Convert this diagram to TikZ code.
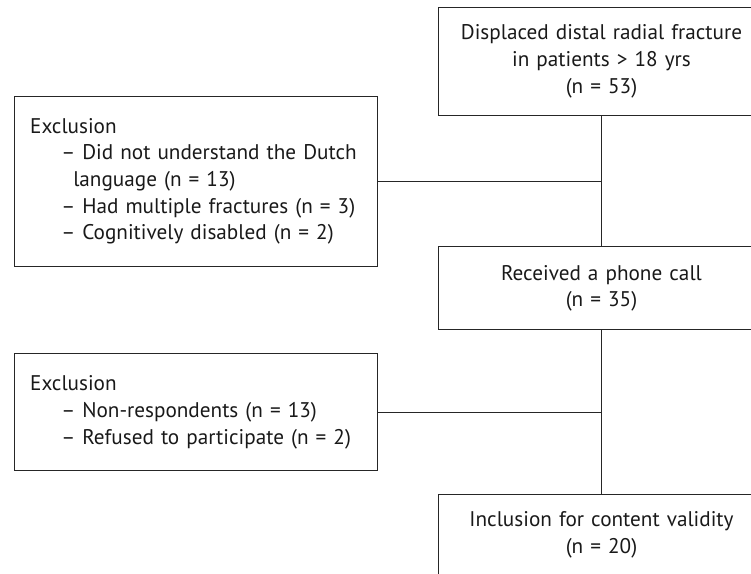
\documentclass[tikz,border=0pt]{standalone}
\usepackage{fontspec}
\setmainfont{PT Sans}
\begin{document}
\begin{tikzpicture}[x=1pt,y=1pt,
	every node/.style={font=\fontsize{21.2}{26.7}\selectfont, text=black!90},
	flowbox/.style={draw=black!85, line width=.9pt, minimum width=327pt, text width=320pt, align=center, inner sep=0pt},
	sidebox/.style={draw=black!85, line width=.9pt, anchor=north west, minimum width=362.6pt, text width=332pt, align=left, inner xsep=15.3pt, inner ysep=0pt},
	link/.style={draw=black!85, line width=.9pt}]
	\useasboundingbox (0,0) rectangle (751,573);
	\clip (0,0) rectangle (751,573);
	% main column
	\node [flowbox, minimum height=108.2pt] (fracture) at (601.5,511.6) {Displaced distal radial fracture\\in patients > 18 yrs\\(n = 53)};
	\node [flowbox, minimum height=83.3pt] (phone) at (601.5,284.7) {Received a phone call\\(n = 35)};
	\node [flowbox, minimum height=81pt] (inclusion) at (601.5,38.5) {Inclusion for content validity\\(n = 20)};
	% exclusions
	\node [sidebox, minimum height=170.2pt] (exclA) at (14.4,477.2) {Exclusion\\
		\hspace*{31.1pt}– Did not understand the Dutch\\
		\hspace*{43.1pt}language (n = 13)\\
		\hspace*{31.1pt}– Had multiple fractures (n = 3)\\
		\hspace*{31.1pt}– Cognitively disabled (n = 2)};
	\node [sidebox, minimum height=116.6pt] (exclB) at (14.4,219.6) {Exclusion\\
		\hspace*{31.1pt}– Non-respondents (n = 13)\\
		\hspace*{31.1pt}– Refused to participate (n = 2)};
	\coordinate (joinA) at (fracture.south |- exclA.east);
	\coordinate (joinB) at (phone.south |- exclB.east);
	\draw [link] (fracture) -- (phone);
	\draw [link] (phone) -- (inclusion);
	\draw [link] (exclA.east) -- (joinA);
	\draw [link] (exclB.east) -- (joinB);
\end{tikzpicture}
\end{document}
